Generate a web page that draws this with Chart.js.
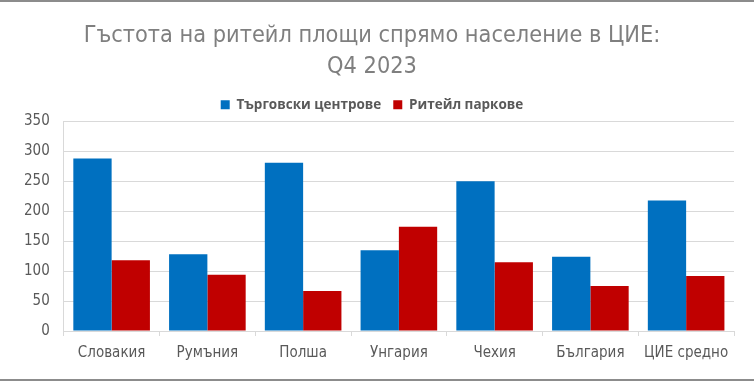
<!DOCTYPE html>
<html>
<head>
<meta charset="utf-8">
<script src="https://cdn.jsdelivr.net/npm/chart.js@4"></script>
<style>
  html, body { margin: 0; padding: 0; background: #fff; }
  #wrap { position: relative; width: 754px; height: 383px; }
</style>
</head>
<body>
<div id="wrap"><canvas id="c" width="754" height="383"></canvas></div>
<script>
const categories = ['Словакия', 'Румъния', 'Полша', 'Унгария', 'Чехия', 'България', 'ЦИЕ средно'];
const seriesNames = ['Търговски центрове', 'Ритейл паркове'];
const shoppingCentres = [288, 128, 281, 135, 250, 124, 218];
const retailParks = [118, 94, 67, 174, 115, 75, 92];
const titleLines = ['Гъстота на ритейл площи спрямо население в ЦИЕ:', 'Q4 2023'];
const yTicks = { min: 0, max: 350, step: 50 };

const NARROW = "'Liberation Sans Narrow', 'DejaVu Sans Condensed', 'Open Sans', sans-serif";

const frame = {
  id: 'frame',
  afterDraw(chart) {
    const ctx = chart.ctx;
    ctx.save();
    ctx.fillStyle = '#8c8c8c';
    ctx.fillRect(0, 0, chart.width, 2);
    ctx.fillRect(0, 379, chart.width, 2);
    ctx.restore();
  }
};

new Chart(document.getElementById('c'), {
  type: 'bar',
  data: {
    labels: categories,
    datasets: [
      { label: seriesNames[0], data: shoppingCentres, backgroundColor: '#0070C0', borderWidth: 0 },
      { label: seriesNames[1], data: retailParks, backgroundColor: '#C00000', borderWidth: 0 }
    ]
  },
  options: {
    responsive: false,
    animation: false,
    devicePixelRatio: 1,
    layout: { padding: { left: 10, right: 20, top: 10, bottom: 13 } },
    datasets: { bar: { categoryPercentage: 0.8, barPercentage: 1.0 } },
    plugins: {
      title: {
        display: true,
        text: titleLines,
        color: '#7f7f7f',
        font: { family: NARROW, size: 23.3, weight: 'normal', lineHeight: 1.35 },
        padding: { top: 10, bottom: 3 }
      },
      legend: {
        display: true,
        position: 'top',
        labels: {
          boxWidth: 9,
          boxHeight: 9,
          color: '#595959',
          font: { family: "'Open Sans', sans-serif", size: 13.5, weight: 'bold' },
          padding: 12
        }
      },
      tooltip: { enabled: false }
    },
    scales: {
      x: {
        grid: { display: true, drawOnChartArea: false, drawTicks: true, tickLength: 5, color: '#d9d9d9', offset: true },
        border: { display: true, color: '#d9d9d9' },
        ticks: { color: '#595959', font: { family: NARROW, size: 15 }, padding: 8 }
      },
      y: {
        min: yTicks.min,
        max: yTicks.max,
        grid: { color: '#d9d9d9', drawTicks: false },
        border: { display: true, color: '#d9d9d9' },
        ticks: { stepSize: yTicks.step, color: '#595959', font: { family: NARROW, size: 15 }, padding: 14 }
      }
    }
  },
  plugins: [frame]
});
</script>
</body>
</html>
